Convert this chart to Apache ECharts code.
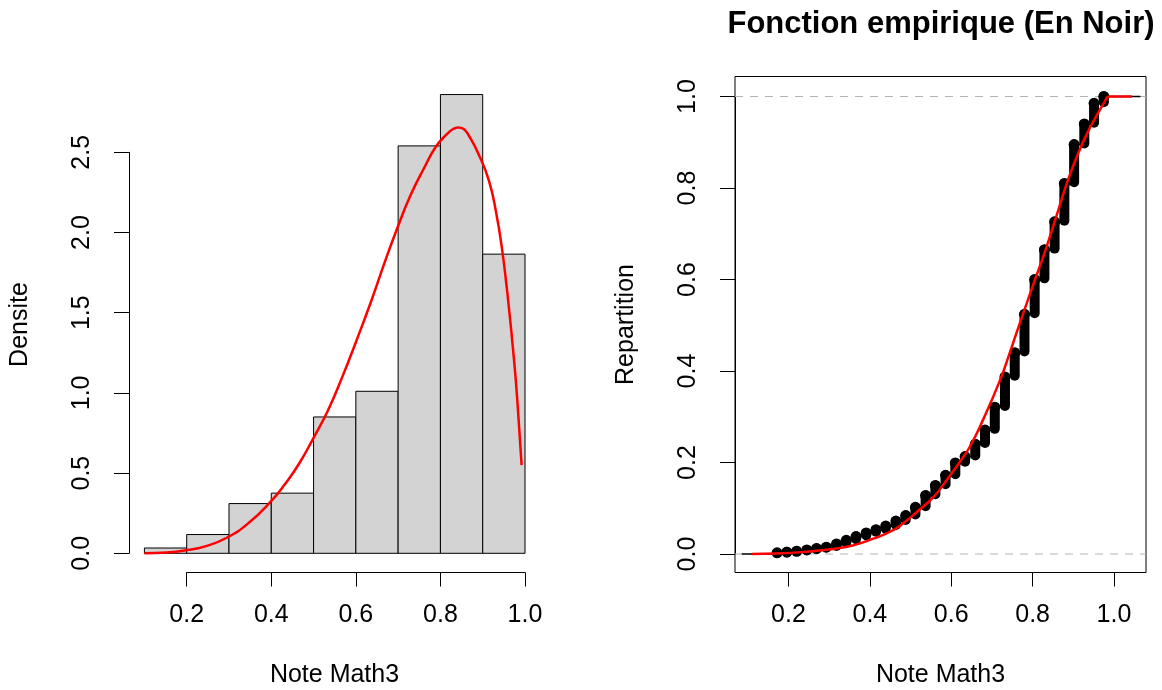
<!DOCTYPE html>
<html><head><meta charset="utf-8">
<script src="https://cdn.jsdelivr.net/npm/echarts@6/dist/echarts.min.js"></script>
<style>html,body{margin:0;padding:0;background:#fff}#c{width:1162px;height:690px}</style>
</head><body><div id="c"></div>
<script>
// ---------- data ----------
const histBreaks = [0.1, 0.2, 0.3, 0.4, 0.5, 0.6, 0.7, 0.8, 0.9, 1.0];
const histDensity = [0.033, 0.117, 0.31, 0.375, 0.85, 1.01, 2.54, 2.86, 1.865];

const densX = [0.10, 0.153, 0.20, 0.246, 0.297, 0.347, 0.398, 0.432, 0.466, 0.50, 0.534, 0.568, 0.602, 0.636, 0.669, 0.697, 0.729, 0.763, 0.788, 0.814, 0.830, 0.842, 0.855, 0.868, 0.89, 0.915, 0.932, 0.945, 0.958, 0.975, 0.984, 0.992];
const densY = [0, 0.005, 0.02, 0.045, 0.10, 0.19, 0.32, 0.43, 0.56, 0.72, 0.89, 1.10, 1.33, 1.57, 1.82, 2.02, 2.23, 2.41, 2.53, 2.61, 2.645, 2.655, 2.645, 2.60, 2.49, 2.32, 2.12, 1.91, 1.63, 1.18, 0.87, 0.55];

const ecdfKnots = [0.172, 0.196, 0.220, 0.245, 0.269, 0.293, 0.318, 0.342, 0.366, 0.391, 0.415, 0.439, 0.464, 0.488, 0.512, 0.537, 0.561, 0.586, 0.610, 0.634, 0.659, 0.683, 0.707, 0.732, 0.756, 0.780, 0.805, 0.829, 0.854, 0.878, 0.902, 0.927, 0.951, 0.975];
const ecdfValues = [0.0025, 0.004, 0.006, 0.009, 0.012, 0.015, 0.022, 0.030, 0.038, 0.046, 0.053, 0.061, 0.072, 0.084, 0.102, 0.128, 0.150, 0.172, 0.199, 0.213, 0.240, 0.271, 0.321, 0.387, 0.440, 0.524, 0.600, 0.665, 0.726, 0.810, 0.895, 0.940, 0.985, 1.0];
const ecdfStart = 0.085, ecdfEnd = 1.065;

const cdfX = [0.11, 0.17, 0.245, 0.31, 0.36, 0.41, 0.45, 0.476, 0.517, 0.558, 0.589, 0.62, 0.646, 0.68, 0.72, 0.744, 0.761, 0.802, 0.83, 0.859, 0.884, 0.912, 0.94, 0.961, 0.975, 0.989, 1.044];
const cdfY = [0, 0.001, 0.005, 0.011, 0.019, 0.034, 0.049, 0.063, 0.093, 0.126, 0.162, 0.2, 0.235, 0.297, 0.38, 0.44, 0.485, 0.59, 0.66, 0.74, 0.81, 0.876, 0.93, 0.964, 0.985, 1.0, 1.0];

const xTicks = [0.2, 0.4, 0.6, 0.8, 1.0];
const yTicksLeft = [0, 0.5, 1.0, 1.5, 2.0, 2.5];
const yTicksRight = [0, 0.2, 0.4, 0.6, 0.8, 1.0];

const titleText = 'Fonction empirique (En Noir)';
const xName = 'Note Math3';
const yNameLeft = 'Densite';
const yNameRight = 'Repartition';

// ---------- layout ----------
const FONT = '"Liberation Sans", Arial, sans-serif';
const FS = 25;
function panel(L, T, W, H, xa, pxa, xb, pxb, ya, pya, yb, pyb) {
  const kx = (xb - xa) / (pxb - pxa), ky = (yb - ya) / (pya - pyb);
  return {
    L, T, W, H,
    xmin: xa - (pxa - L) * kx, xmax: xa + (L + W - pxa) * kx,
    ymin: ya - (T + H - pya) * ky, ymax: ya + (pya - T) * ky,
    inner: { left: pxa, top: pyb, width: pxb - pxa, height: pya - pyb },
    xOff: T + H - pya, yOff: pxa - L
  };
}
const P1 = panel(129, 76.5, 411, 496, 0.2, 186.7, 1.0, 525, 0, 553.3, 2.5, 152.3);
const P2 = panel(735, 76.5, 411, 496, 0.2, 788.5, 1.0, 1114, 0, 554, 1.0, 96.5);

const txt = { color: '#000', fontFamily: FONT, fontSize: FS };
function outerX(P, idx) {
  return { type: 'value', gridIndex: idx, min: P.xmin, max: P.xmax, name: xName, nameLocation: 'middle', nameGap: 90,
    nameTextStyle: txt, axisLine: { show: false }, axisTick: { show: false }, axisLabel: { show: false }, splitLine: { show: false } };
}
function outerY(P, idx, nm) {
  return { type: 'value', gridIndex: idx, min: P.ymin, max: P.ymax, name: nm, nameLocation: 'middle', nameGap: 96,
    nameTextStyle: txt, axisLine: { show: false }, axisTick: { show: false }, axisLabel: { show: false }, splitLine: { show: false } };
}
function innerX(P, idx) {
  return { type: 'value', gridIndex: idx, min: xTicks[0], max: xTicks[xTicks.length - 1], interval: xTicks[1] - xTicks[0],
    offset: P.xOff, axisLine: { onZero: false, lineStyle: { color: '#000', width: 1 } },
    axisTick: { length: 14, lineStyle: { color: '#000', width: 1 } },
    axisLabel: Object.assign({ margin: 30, formatter: v => v.toFixed(1) }, txt), splitLine: { show: false } };
}
function innerY(P, idx, ticks) {
  return { type: 'value', gridIndex: idx, min: ticks[0], max: ticks[ticks.length - 1], interval: ticks[1] - ticks[0],
    offset: P.yOff, axisLine: { onZero: false, lineStyle: { color: '#000', width: 1 } },
    axisTick: { length: 15, lineStyle: { color: '#000', width: 1 } },
    axisLabel: Object.assign({ margin: 34, rotate: 90, formatter: v => v.toFixed(1) }, txt), splitLine: { show: false } };
}
function gridOf(b, extra) {
  return Object.assign({ left: b.left, top: b.top, width: b.width, height: b.height, containLabel: false, outerBoundsMode: 'none' }, extra || {});
}

const histData = histDensity.map((d, i) => [histBreaks[i], histBreaks[i + 1], d]);
const densData = densX.map((x, i) => [x, densY[i]]);
const cdfData = cdfX.map((x, i) => [x, cdfY[i]]);
const stepData = [[ecdfStart, 0]].concat(ecdfKnots.map((x, i) => [x, ecdfValues[i]])).concat([[ecdfEnd, 1]]);
const barData = ecdfKnots.map((x, i) => [x, i === 0 ? ecdfValues[0] : ecdfValues[i - 1] + 0.0025, ecdfValues[i]]);

const option = {
  animation: false,
  backgroundColor: '#fff',
  title: { text: titleText, left: 936, top: 4, textAlign: 'center',
    textStyle: { color: '#000', fontFamily: FONT, fontSize: 31, fontWeight: 'bold' } },
  grid: [
    gridOf({ left: P1.L, top: P1.T, width: P1.W, height: P1.H }),
    gridOf(P1.inner),
    gridOf({ left: P2.L, top: P2.T, width: P2.W, height: P2.H }, { show: true, borderColor: '#000', borderWidth: 1, backgroundColor: 'transparent' }),
    gridOf(P2.inner)
  ],
  xAxis: [outerX(P1, 0), innerX(P1, 1), outerX(P2, 2), innerX(P2, 3)],
  yAxis: [outerY(P1, 0, yNameLeft), innerY(P1, 1, yTicksLeft), outerY(P2, 2, yNameRight), innerY(P2, 3, yTicksRight)],
  series: [
    { type: 'custom', xAxisIndex: 0, yAxisIndex: 0, data: histData, z: 2,
      renderItem: (params, api) => {
        const a = api.coord([api.value(0), api.value(2)]);
        const b = api.coord([api.value(1), 0]);
        return { type: 'rect', shape: { x: a[0], y: a[1], width: b[0] - a[0], height: b[1] - a[1] },
          style: { fill: '#d3d3d3', stroke: '#000', lineWidth: 1 } };
      } },
    { type: 'line', xAxisIndex: 0, yAxisIndex: 0, data: densData, smooth: 0.5, symbol: 'none', z: 5,
      lineStyle: { color: '#ff0000', width: 2.5 } },
    { type: 'line', xAxisIndex: 2, yAxisIndex: 2, data: [[P2.xmin, 0], [P2.xmax, 0]], symbol: 'none', z: 1,
      lineStyle: { color: '#b3b3b3', width: 1, type: [8, 7] } },
    { type: 'line', xAxisIndex: 2, yAxisIndex: 2, data: [[P2.xmin, 1], [P2.xmax, 1]], symbol: 'none', z: 1,
      lineStyle: { color: '#b3b3b3', width: 1, type: [8, 7] } },
    { type: 'line', xAxisIndex: 2, yAxisIndex: 2, data: stepData, step: 'end', symbol: 'none', z: 2,
      lineStyle: { color: '#000', width: 1.5 } },
    { type: 'custom', xAxisIndex: 2, yAxisIndex: 2, data: barData, z: 3,
      renderItem: (params, api) => {
        const a = api.coord([api.value(0), api.value(1)]);
        const b = api.coord([api.value(0), api.value(2)]);
        return { type: 'group', children: [
          { type: 'line', shape: { x1: a[0], y1: a[1], x2: b[0], y2: b[1] },
            style: { stroke: '#000', lineWidth: 10, lineCap: 'round' } },
          { type: 'circle', shape: { cx: b[0], cy: b[1], r: 5.5 }, style: { fill: '#000' } }
        ] };
      } },
    { type: 'line', xAxisIndex: 2, yAxisIndex: 2, data: cdfData, smooth: 0.5, symbol: 'none', z: 5,
      lineStyle: { color: '#ff0000', width: 2.5 } }
  ]
};
const chart = echarts.init(document.getElementById('c'), null, { renderer: 'canvas' });
chart.setOption(option);
</script>
</body></html>
